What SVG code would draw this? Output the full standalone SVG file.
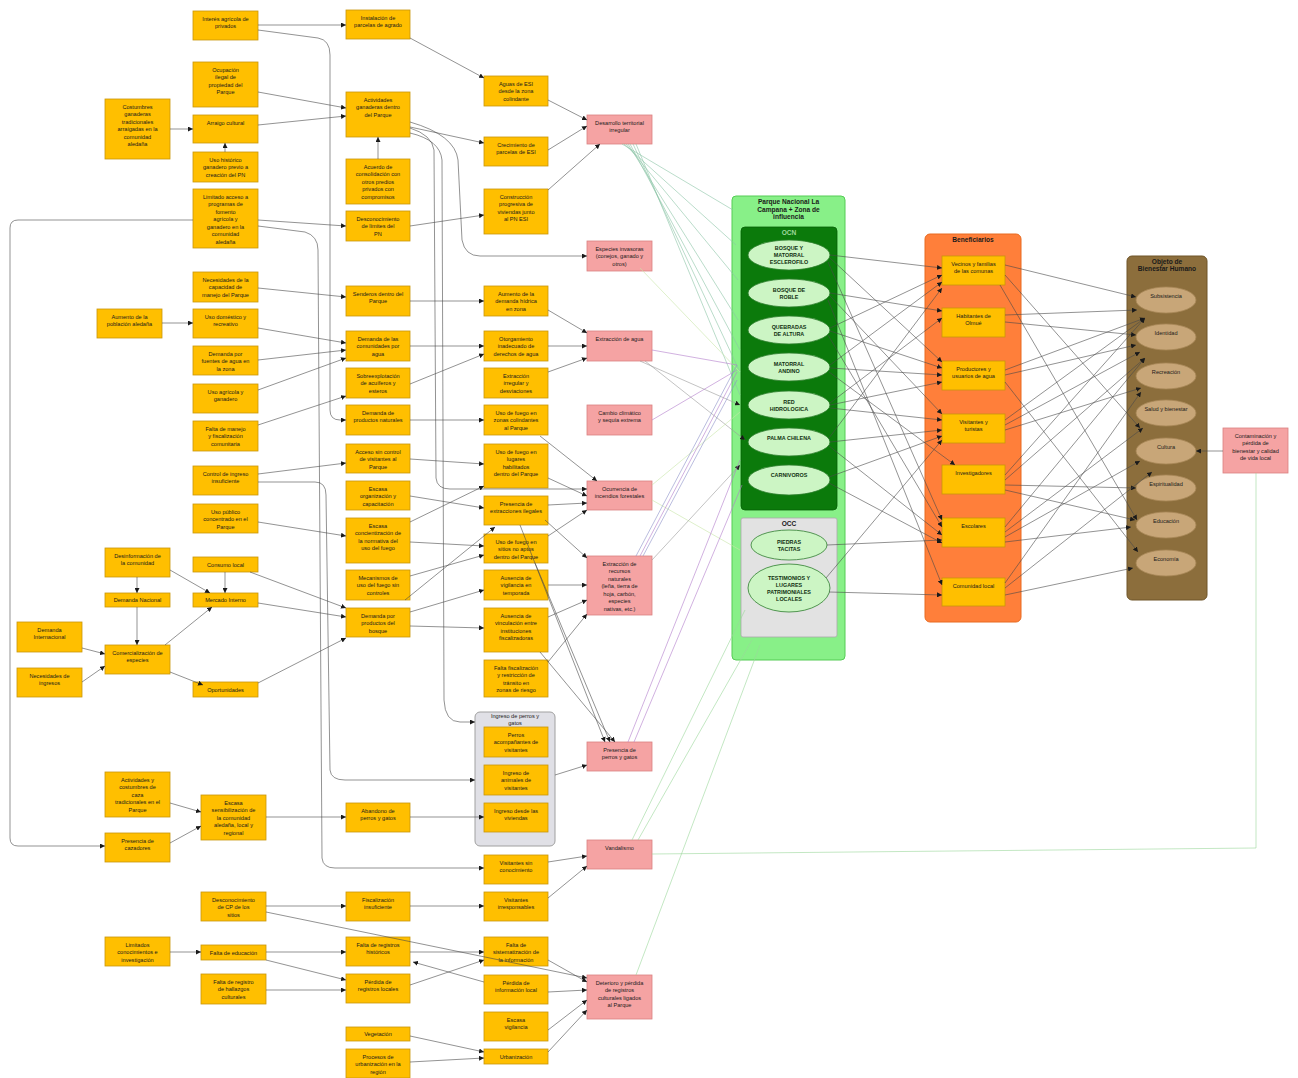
<svg xmlns="http://www.w3.org/2000/svg" width="1298" height="1078" viewBox="0 0 1298 1078">
<defs>
<marker id="a" viewBox="0 0 10 10" refX="10" refY="5" markerUnits="userSpaceOnUse" markerWidth="5" markerHeight="5" orient="auto"><path d="M0,0L10,5L0,10z" fill="#1a1a1a"/></marker>
<style>
.n rect{fill:#FFBF00;stroke:#C8960A;stroke-width:0.8}
.r rect{fill:#F5A3A3;stroke:#D98080;stroke-width:0.8}
.t{font-family:"Liberation Sans",Arial,sans-serif;font-size:5.6px;fill:#1a1a1a;text-anchor:middle}
.b{font-family:"Liberation Sans",Arial,sans-serif;font-size:5.4px;font-weight:bold;fill:#103010;text-anchor:middle}
.h{font-family:"Liberation Sans",Arial,sans-serif;font-size:6.6px;font-weight:bold;fill:#1a1a1a;text-anchor:middle}
.ge ellipse{fill:#CCF5C4;stroke:#2F7F2F;stroke-width:0.8}
.be ellipse{fill:#C8A678;stroke:#A88858;stroke-width:0.8}
#connectors path{fill:none;stroke-width:0.6}
.c{stroke:#4a4a4a;marker-end:url(#a)}
.gr{stroke:#8CC4A6}
.lg{stroke:#C8E6A8}
.pu{stroke:#B27CCB}
.bl{stroke:#8C90C8}
.gl{stroke:#9AD69A}
</style>
</defs>
<rect width="1298" height="1078" fill="#ffffff"/>

<!-- containers -->
<g id="parque">
<rect x="732" y="196" width="113" height="464" rx="4" fill="#88F088" stroke="#55CC55" stroke-width="1"/>
<text class="h"><tspan x="788.5" y="204">Parque Nacional La</tspan><tspan x="788.5" dy="7.5">Campana + Zona de</tspan><tspan x="788.5" dy="7.5">influencia</tspan></text>
<rect x="741" y="227" width="96" height="283" rx="4" fill="#0B7A0B" stroke="#066006" stroke-width="0.8"/>
<text class="h" x="789" y="235" style="fill:#9ED89E">OCN</text>
<rect x="741" y="518" width="96" height="119" rx="2" fill="#E2E2E2" stroke="#AAAAAA" stroke-width="0.8"/>
<text class="h" x="789" y="526">OCC</text>
</g>
<g id="beneficiarios">
<rect x="925" y="234" width="96" height="388" rx="5" fill="#FF7F3A" stroke="#E86A20" stroke-width="1"/>
<text class="h" x="973" y="242">Beneficiarios</text>
</g>
<g id="bienestar">
<rect x="1127" y="256" width="80" height="344" rx="5" fill="#8C6E3C" stroke="#6E5428" stroke-width="1"/>
<text class="h"><tspan x="1167" y="264">Objeto de</tspan><tspan x="1167" dy="7">Bienestar Humano</tspan></text>
</g>
<g id="grupo-perros">
<rect x="475" y="712" width="80" height="134" rx="5" fill="#E0E0E6" stroke="#A0A0A0" stroke-width="1"/>
<text class="t"><tspan x="515" y="718">Ingreso de perros y</tspan><tspan x="515" dy="6.5">gatos</tspan></text>
</g>

<!-- column A -->
<g id="A1" class="n"><rect x="105" y="99" width="65" height="60"/><text class="t"><tspan x="137.5" y="108.5">Costumbres</tspan><tspan x="137.5" dy="7.5">ganaderas</tspan><tspan x="137.5" dy="7.5">tradicionales</tspan><tspan x="137.5" dy="7.5">arraigadas en la</tspan><tspan x="137.5" dy="7.5">comunidad</tspan><tspan x="137.5" dy="7.5">aledaña</tspan></text></g>
<g id="A2" class="n"><rect x="97" y="309" width="65" height="29"/><text class="t"><tspan x="129.5" y="318.5">Aumento de la</tspan><tspan x="129.5" dy="7.5">población aledaña</tspan></text></g>
<g id="A3" class="n"><rect x="105" y="548" width="65" height="29"/><text class="t"><tspan x="137.5" y="557.5">Desinformación de</tspan><tspan x="137.5" dy="7.5">la comunidad</tspan></text></g>
<g id="A4" class="n"><rect x="105" y="593" width="65" height="14"/><text class="t" x="137.5" y="602">Demanda Nacional</text></g>
<g id="A5" class="n"><rect x="17" y="622" width="65" height="30"/><text class="t"><tspan x="49.5" y="631.5">Demanda</tspan><tspan x="49.5" dy="7.5">Internacional</tspan></text></g>
<g id="A6" class="n"><rect x="105" y="645" width="65" height="29"/><text class="t"><tspan x="137.5" y="654.5">Comercialización de</tspan><tspan x="137.5" dy="7.5">especies</tspan></text></g>
<g id="A7" class="n"><rect x="17" y="668" width="65" height="29"/><text class="t"><tspan x="49.5" y="677.5">Necesidades de</tspan><tspan x="49.5" dy="7.5">ingresos</tspan></text></g>
<g id="A8" class="n"><rect x="105" y="772" width="65" height="45"/><text class="t"><tspan x="137.5" y="781.5">Actividades y</tspan><tspan x="137.5" dy="7.5">costumbres de</tspan><tspan x="137.5" dy="7.5">caza</tspan><tspan x="137.5" dy="7.5">tradicionales en el</tspan><tspan x="137.5" dy="7.5">Parque</tspan></text></g>
<g id="A9" class="n"><rect x="105" y="833" width="65" height="29"/><text class="t"><tspan x="137.5" y="842.5">Presencia de</tspan><tspan x="137.5" dy="7.5">cazadores</tspan></text></g>
<g id="A10" class="n"><rect x="105" y="937" width="65" height="29"/><text class="t"><tspan x="137.5" y="946.5">Limitados</tspan><tspan x="137.5" dy="7.5">conocimientos e</tspan><tspan x="137.5" dy="7.5">investigación</tspan></text></g>

<!-- column B -->
<g id="B1" class="n"><rect x="193" y="11" width="65" height="29"/><text class="t"><tspan x="225.5" y="20.5">Interés agrícola de</tspan><tspan x="225.5" dy="7.5">privados</tspan></text></g>
<g id="B2" class="n"><rect x="193" y="62" width="65" height="45"/><text class="t"><tspan x="225.5" y="71.5">Ocupación</tspan><tspan x="225.5" dy="7.5">ilegal de</tspan><tspan x="225.5" dy="7.5">propiedad del</tspan><tspan x="225.5" dy="7.5">Parque</tspan></text></g>
<g id="B3" class="n"><rect x="193" y="115" width="65" height="28"/><text class="t" x="225.5" y="124.5">Arraigo cultural</text></g>
<g id="B4" class="n"><rect x="193" y="152" width="65" height="30"/><text class="t"><tspan x="225.5" y="161.5">Uso histórico</tspan><tspan x="225.5" dy="7.5">ganadero previo a</tspan><tspan x="225.5" dy="7.5">creación del PN</tspan></text></g>
<g id="B5" class="n"><rect x="193" y="189" width="65" height="59"/><text class="t"><tspan x="225.5" y="198.5">Limitado acceso a</tspan><tspan x="225.5" dy="7.5">programas de</tspan><tspan x="225.5" dy="7.5">fomento</tspan><tspan x="225.5" dy="7.5">agrícola y</tspan><tspan x="225.5" dy="7.5">ganadero en la</tspan><tspan x="225.5" dy="7.5">comunidad</tspan><tspan x="225.5" dy="7.5">aledaña</tspan></text></g>
<g id="B6" class="n"><rect x="193" y="272" width="65" height="30"/><text class="t"><tspan x="225.5" y="281.5">Necesidades de la</tspan><tspan x="225.5" dy="7.5">capacidad de</tspan><tspan x="225.5" dy="7.5">manejo del Parque</tspan></text></g>
<g id="B7" class="n"><rect x="193" y="309" width="65" height="29"/><text class="t"><tspan x="225.5" y="318.5">Uso doméstico y</tspan><tspan x="225.5" dy="7.5">recreativo</tspan></text></g>
<g id="B8" class="n"><rect x="193" y="346" width="65" height="29"/><text class="t"><tspan x="225.5" y="355.5">Demanda por</tspan><tspan x="225.5" dy="7.5">fuentes de agua en</tspan><tspan x="225.5" dy="7.5">la zona</tspan></text></g>
<g id="B9" class="n"><rect x="193" y="384" width="65" height="29"/><text class="t"><tspan x="225.5" y="393.5">Uso agrícola y</tspan><tspan x="225.5" dy="7.5">ganadero</tspan></text></g>
<g id="B10" class="n"><rect x="193" y="421" width="65" height="30"/><text class="t"><tspan x="225.5" y="430.5">Falta de manejo</tspan><tspan x="225.5" dy="7.5">y fiscalización</tspan><tspan x="225.5" dy="7.5">comunitaria</tspan></text></g>
<g id="B11" class="n"><rect x="193" y="466" width="65" height="29"/><text class="t"><tspan x="225.5" y="475.5">Control de ingreso</tspan><tspan x="225.5" dy="7.5">insuficiente</tspan></text></g>
<g id="B12" class="n"><rect x="193" y="504" width="65" height="29"/><text class="t"><tspan x="225.5" y="513.5">Uso público</tspan><tspan x="225.5" dy="7.5">concentrado en el</tspan><tspan x="225.5" dy="7.5">Parque</tspan></text></g>
<g id="B13" class="n"><rect x="193" y="557" width="65" height="15"/><text class="t" x="225.5" y="566.5">Consumo local</text></g>
<g id="B14" class="n"><rect x="193" y="593" width="65" height="14"/><text class="t" x="225.5" y="602">Mercado Interno</text></g>
<g id="B15" class="n"><rect x="193" y="682" width="65" height="15"/><text class="t" x="225.5" y="691.5">Oportunidades</text></g>
<g id="B16" class="n"><rect x="201" y="795" width="65" height="45"/><text class="t"><tspan x="233.5" y="804.5">Escasa</tspan><tspan x="233.5" dy="7.5">sensibilización de</tspan><tspan x="233.5" dy="7.5">la comunidad</tspan><tspan x="233.5" dy="7.5">aledaña, local y</tspan><tspan x="233.5" dy="7.5">regional</tspan></text></g>
<g id="B17" class="n"><rect x="201" y="892" width="65" height="29"/><text class="t"><tspan x="233.5" y="901.5">Desconocimiento</tspan><tspan x="233.5" dy="7.5">de CP de los</tspan><tspan x="233.5" dy="7.5">sitios</tspan></text></g>
<g id="B18" class="n"><rect x="201" y="945" width="65" height="15"/><text class="t" x="233.5" y="954.5">Falta de educación</text></g>
<g id="B19" class="n"><rect x="201" y="974" width="65" height="30"/><text class="t"><tspan x="233.5" y="983.5">Falta de registro</tspan><tspan x="233.5" dy="7.5">de hallazgos</tspan><tspan x="233.5" dy="7.5">culturales</tspan></text></g>

<!-- column C -->
<g id="C1" class="n"><rect x="346" y="10" width="64" height="29"/><text class="t"><tspan x="378" y="19.5">Instalación de</tspan><tspan x="378" dy="7.5">parcelas de agrado</tspan></text></g>
<g id="C2" class="n"><rect x="346" y="92" width="64" height="45"/><text class="t"><tspan x="378" y="101.5">Actividades</tspan><tspan x="378" dy="7.5">ganaderas dentro</tspan><tspan x="378" dy="7.5">del Parque</tspan></text></g>
<g id="C3" class="n"><rect x="346" y="159" width="64" height="45"/><text class="t"><tspan x="378" y="168.5">Acuerdo de</tspan><tspan x="378" dy="7.5">consolidación con</tspan><tspan x="378" dy="7.5">otros predios</tspan><tspan x="378" dy="7.5">privados con</tspan><tspan x="378" dy="7.5">compromisos</tspan></text></g>
<g id="C4" class="n"><rect x="346" y="211" width="64" height="30"/><text class="t"><tspan x="378" y="220.5">Desconocimiento</tspan><tspan x="378" dy="7.5">de límites del</tspan><tspan x="378" dy="7.5">PN</tspan></text></g>
<g id="C5" class="n"><rect x="346" y="286" width="64" height="30"/><text class="t"><tspan x="378" y="295.5">Senderos dentro del</tspan><tspan x="378" dy="7.5">Parque</tspan></text></g>
<g id="C6" class="n"><rect x="346" y="331" width="64" height="30"/><text class="t"><tspan x="378" y="340.5">Demanda de las</tspan><tspan x="378" dy="7.5">comunidades por</tspan><tspan x="378" dy="7.5">agua</tspan></text></g>
<g id="C7" class="n"><rect x="346" y="368" width="64" height="30"/><text class="t"><tspan x="378" y="377.5">Sobreexplotación</tspan><tspan x="378" dy="7.5">de acuíferos y</tspan><tspan x="378" dy="7.5">esteros</tspan></text></g>
<g id="C8" class="n"><rect x="346" y="405" width="64" height="30"/><text class="t"><tspan x="378" y="414.5">Demanda de</tspan><tspan x="378" dy="7.5">productos naturales</tspan></text></g>
<g id="C9" class="n"><rect x="346" y="444" width="64" height="29"/><text class="t"><tspan x="378" y="453.5">Acceso sin control</tspan><tspan x="378" dy="7.5">de visitantes al</tspan><tspan x="378" dy="7.5">Parque</tspan></text></g>
<g id="C10" class="n"><rect x="346" y="481" width="64" height="29"/><text class="t"><tspan x="378" y="490.5">Escasa</tspan><tspan x="378" dy="7.5">organización y</tspan><tspan x="378" dy="7.5">capacitación</tspan></text></g>
<g id="C11" class="n"><rect x="346" y="518" width="64" height="45"/><text class="t"><tspan x="378" y="527.5">Escasa</tspan><tspan x="378" dy="7.5">concientización de</tspan><tspan x="378" dy="7.5">la normativa del</tspan><tspan x="378" dy="7.5">uso del fuego</tspan></text></g>
<g id="C12" class="n"><rect x="346" y="570" width="64" height="30"/><text class="t"><tspan x="378" y="579.5">Mecanismos de</tspan><tspan x="378" dy="7.5">uso del fuego sin</tspan><tspan x="378" dy="7.5">controles</tspan></text></g>
<g id="C13" class="n"><rect x="346" y="608" width="64" height="29"/><text class="t"><tspan x="378" y="617.5">Demanda por</tspan><tspan x="378" dy="7.5">productos del</tspan><tspan x="378" dy="7.5">bosque</tspan></text></g>
<g id="C14" class="n"><rect x="346" y="803" width="64" height="29"/><text class="t"><tspan x="378" y="812.5">Abandono de</tspan><tspan x="378" dy="7.5">perros y gatos</tspan></text></g>
<g id="C15" class="n"><rect x="346" y="892" width="64" height="29"/><text class="t"><tspan x="378" y="901.5">Fiscalización</tspan><tspan x="378" dy="7.5">insuficiente</tspan></text></g>
<g id="C16" class="n"><rect x="346" y="937" width="64" height="29"/><text class="t"><tspan x="378" y="946.5">Falta de registros</tspan><tspan x="378" dy="7.5">históricos</tspan></text></g>
<g id="C17" class="n"><rect x="346" y="974" width="64" height="29"/><text class="t"><tspan x="378" y="983.5">Pérdida de</tspan><tspan x="378" dy="7.5">registros locales</tspan></text></g>
<g id="C18" class="n"><rect x="346" y="1027" width="64" height="14"/><text class="t" x="378" y="1036">Vegetación</text></g>
<g id="C19" class="n"><rect x="346" y="1049" width="64" height="29"/><text class="t"><tspan x="378" y="1058.5">Procesos de</tspan><tspan x="378" dy="7.5">urbanización en la</tspan><tspan x="378" dy="7.5">región</tspan></text></g>

<!-- column D -->
<g id="D1" class="n"><rect x="484" y="76" width="64" height="30"/><text class="t"><tspan x="516" y="85.5">Aguas de ESI</tspan><tspan x="516" dy="7.5">desde la zona</tspan><tspan x="516" dy="7.5">colindante</tspan></text></g>
<g id="D2" class="n"><rect x="484" y="137" width="64" height="29"/><text class="t"><tspan x="516" y="146.5">Crecimiento de</tspan><tspan x="516" dy="7.5">parcelas de ESI</tspan></text></g>
<g id="D3" class="n"><rect x="484" y="189" width="64" height="45"/><text class="t"><tspan x="516" y="198.5">Construcción</tspan><tspan x="516" dy="7.5">progresiva de</tspan><tspan x="516" dy="7.5">viviendas junto</tspan><tspan x="516" dy="7.5">al PN ESI</tspan></text></g>
<g id="D4" class="n"><rect x="484" y="286" width="64" height="30"/><text class="t"><tspan x="516" y="295.5">Aumento de la</tspan><tspan x="516" dy="7.5">demanda hídrica</tspan><tspan x="516" dy="7.5">en zona</tspan></text></g>
<g id="D5" class="n"><rect x="484" y="331" width="64" height="30"/><text class="t"><tspan x="516" y="340.5">Otorgamiento</tspan><tspan x="516" dy="7.5">inadecuado de</tspan><tspan x="516" dy="7.5">derechos de agua</tspan></text></g>
<g id="D6" class="n"><rect x="484" y="368" width="64" height="30"/><text class="t"><tspan x="516" y="377.5">Extracción</tspan><tspan x="516" dy="7.5">irregular y</tspan><tspan x="516" dy="7.5">desviaciones</tspan></text></g>
<g id="D7" class="n"><rect x="484" y="405" width="64" height="30"/><text class="t"><tspan x="516" y="414.5">Uso de fuego en</tspan><tspan x="516" dy="7.5">zonas colindantes</tspan><tspan x="516" dy="7.5">al Parque</tspan></text></g>
<g id="D8" class="n"><rect x="484" y="444" width="64" height="44"/><text class="t"><tspan x="516" y="453.5">Uso de fuego en</tspan><tspan x="516" dy="7.5">lugares</tspan><tspan x="516" dy="7.5">habilitados</tspan><tspan x="516" dy="7.5">dentro del Parque</tspan></text></g>
<g id="D9" class="n"><rect x="484" y="496" width="64" height="29"/><text class="t"><tspan x="516" y="505.5">Presencia de</tspan><tspan x="516" dy="7.5">extracciones ilegales</tspan></text></g>
<g id="D10" class="n"><rect x="484" y="534" width="64" height="29"/><text class="t"><tspan x="516" y="543.5">Uso de fuego en</tspan><tspan x="516" dy="7.5">sitios no aptos</tspan><tspan x="516" dy="7.5">dentro del Parque</tspan></text></g>
<g id="D11" class="n"><rect x="484" y="570" width="64" height="30"/><text class="t"><tspan x="516" y="579.5">Ausencia de</tspan><tspan x="516" dy="7.5">vigilancia en</tspan><tspan x="516" dy="7.5">temporada</tspan></text></g>
<g id="D12" class="n"><rect x="484" y="608" width="64" height="44"/><text class="t"><tspan x="516" y="617.5">Ausencia de</tspan><tspan x="516" dy="7.5">vinculación entre</tspan><tspan x="516" dy="7.5">instituciones</tspan><tspan x="516" dy="7.5">fiscalizadoras</tspan></text></g>
<g id="D13" class="n"><rect x="484" y="660" width="64" height="37"/><text class="t"><tspan x="516" y="669.5">Falta fiscalización</tspan><tspan x="516" dy="7.5">y restricción de</tspan><tspan x="516" dy="7.5">tránsito en</tspan><tspan x="516" dy="7.5">zonas de riesgo</tspan></text></g>
<g id="D14" class="n"><rect x="484" y="727" width="64" height="30"/><text class="t"><tspan x="516" y="736.5">Perros</tspan><tspan x="516" dy="7.5">acompañantes de</tspan><tspan x="516" dy="7.5">visitantes</tspan></text></g>
<g id="D15" class="n"><rect x="484" y="765" width="64" height="30"/><text class="t"><tspan x="516" y="774.5">Ingreso de</tspan><tspan x="516" dy="7.5">animales de</tspan><tspan x="516" dy="7.5">visitantes</tspan></text></g>
<g id="D16" class="n"><rect x="484" y="803" width="64" height="29"/><text class="t"><tspan x="516" y="812.5">Ingreso desde las</tspan><tspan x="516" dy="7.5">viviendas</tspan></text></g>
<g id="D17" class="n"><rect x="484" y="855" width="64" height="29"/><text class="t"><tspan x="516" y="864.5">Visitantes sin</tspan><tspan x="516" dy="7.5">conocimiento</tspan></text></g>
<g id="D18" class="n"><rect x="484" y="892" width="64" height="29"/><text class="t"><tspan x="516" y="901.5">Visitantes</tspan><tspan x="516" dy="7.5">irresponsables</tspan></text></g>
<g id="D19" class="n"><rect x="484" y="937" width="64" height="29"/><text class="t"><tspan x="516" y="946.5">Falta de</tspan><tspan x="516" dy="7.5">sistematización de</tspan><tspan x="516" dy="7.5">la información</tspan></text></g>
<g id="D20" class="n"><rect x="484" y="975" width="64" height="29"/><text class="t"><tspan x="516" y="984.5">Pérdida de</tspan><tspan x="516" dy="7.5">información local</tspan></text></g>
<g id="D21" class="n"><rect x="484" y="1012" width="64" height="29"/><text class="t"><tspan x="516" y="1021.5">Escasa</tspan><tspan x="516" dy="7.5">vigilancia</tspan></text></g>
<g id="D22" class="n"><rect x="484" y="1049" width="64" height="15"/><text class="t" x="516" y="1058.5">Urbanización</text></g>

<!-- threats -->
<g id="E1" class="r"><rect x="587" y="115" width="65" height="29"/><text class="t"><tspan x="619.5" y="124.5">Desarrollo territorial</tspan><tspan x="619.5" dy="7.5">irregular</tspan></text></g>
<g id="E2" class="r"><rect x="587" y="241" width="65" height="30"/><text class="t"><tspan x="619.5" y="250.5">Especies invasoras</tspan><tspan x="619.5" dy="7.5">(conejos, ganado y</tspan><tspan x="619.5" dy="7.5">otros)</tspan></text></g>
<g id="E3" class="r"><rect x="587" y="331" width="65" height="30"/><text class="t" x="619.5" y="340.5">Extracción de agua</text></g>
<g id="E4" class="r"><rect x="587" y="405" width="65" height="30"/><text class="t"><tspan x="619.5" y="414.5">Cambio climático</tspan><tspan x="619.5" dy="7.5">y sequía extrema</tspan></text></g>
<g id="E5" class="r"><rect x="587" y="481" width="65" height="29"/><text class="t"><tspan x="619.5" y="490.5">Ocurrencia de</tspan><tspan x="619.5" dy="7.5">incendios forestales</tspan></text></g>
<g id="E6" class="r"><rect x="587" y="556" width="65" height="59"/><text class="t"><tspan x="619.5" y="565.5">Extracción de</tspan><tspan x="619.5" dy="7.5">recursos</tspan><tspan x="619.5" dy="7.5">naturales</tspan><tspan x="619.5" dy="7.5">(leña, tierra de</tspan><tspan x="619.5" dy="7.5">hoja, carbón,</tspan><tspan x="619.5" dy="7.5">especies</tspan><tspan x="619.5" dy="7.5">nativas, etc.)</tspan></text></g>
<g id="E7" class="r"><rect x="587" y="742" width="65" height="29"/><text class="t"><tspan x="619.5" y="751.5">Presencia de</tspan><tspan x="619.5" dy="7.5">perros y gatos</tspan></text></g>
<g id="E8" class="r"><rect x="587" y="840" width="65" height="29"/><text class="t" x="619.5" y="849.5">Vandalismo</text></g>
<g id="E9" class="r"><rect x="587" y="975" width="65" height="44"/><text class="t"><tspan x="619.5" y="984.5">Deterioro y pérdida</tspan><tspan x="619.5" dy="7.5">de registros</tspan><tspan x="619.5" dy="7.5">culturales ligados</tspan><tspan x="619.5" dy="7.5">al Parque</tspan></text></g>
<g id="R1" class="r"><rect x="1223" y="428" width="65" height="45"/><text class="t"><tspan x="1255.5" y="437.5">Contaminación y</tspan><tspan x="1255.5" dy="7.5">pérdida de</tspan><tspan x="1255.5" dy="7.5">bienestar y calidad</tspan><tspan x="1255.5" dy="7.5">de vida local</tspan></text></g>

<!-- green targets -->
<g id="T1" class="ge"><ellipse cx="789" cy="255" rx="41" ry="15"/><text class="b"><tspan x="789" y="250">BOSQUE Y</tspan><tspan x="789" dy="7">MATORRAL</tspan><tspan x="789" dy="7">ESCLEROFILO</tspan></text></g>
<g id="T2" class="ge"><ellipse cx="789" cy="293" rx="41" ry="14"/><text class="b"><tspan x="789" y="291.5">BOSQUE DE</tspan><tspan x="789" dy="7">ROBLE</tspan></text></g>
<g id="T3" class="ge"><ellipse cx="789" cy="330" rx="41" ry="14"/><text class="b"><tspan x="789" y="328.5">QUEBRADAS</tspan><tspan x="789" dy="7">DE ALTURA</tspan></text></g>
<g id="T4" class="ge"><ellipse cx="789" cy="367" rx="41" ry="14"/><text class="b"><tspan x="789" y="365.5">MATORRAL</tspan><tspan x="789" dy="7">ANDINO</tspan></text></g>
<g id="T5" class="ge"><ellipse cx="789" cy="405" rx="41" ry="14"/><text class="b"><tspan x="789" y="403.5">RED</tspan><tspan x="789" dy="7">HIDROLOGICA</tspan></text></g>
<g id="T6" class="ge"><ellipse cx="789" cy="442" rx="41" ry="14"/><text class="b" x="789" y="440">PALMA CHILENA</text></g>
<g id="T7" class="ge"><ellipse cx="789" cy="480" rx="41" ry="15"/><text class="b" x="789" y="477">CARNIVOROS</text></g>
<g id="T8" class="ge"><ellipse cx="789" cy="545" rx="38" ry="15"/><text class="b"><tspan x="789" y="543.5">PIEDRAS</tspan><tspan x="789" dy="7">TACITAS</tspan></text></g>
<g id="T9" class="ge"><ellipse cx="789" cy="588" rx="41" ry="24"/><text class="b"><tspan x="789" y="579.5">TESTIMONIOS Y</tspan><tspan x="789" dy="7">LUGARES</tspan><tspan x="789" dy="7">PATRIMONIALES</tspan><tspan x="789" dy="7">LOCALES</tspan></text></g>

<!-- beneficiaries -->
<g id="O1" class="n"><rect x="942" y="256" width="63" height="29"/><text class="t"><tspan x="973.5" y="265.5">Vecinos y familias</tspan><tspan x="973.5" dy="7.5">de las comunas</tspan></text></g>
<g id="O2" class="n"><rect x="942" y="308" width="63" height="29"/><text class="t"><tspan x="973.5" y="317.5">Habitantes de</tspan><tspan x="973.5" dy="7.5">Olmué</tspan></text></g>
<g id="O3" class="n"><rect x="942" y="361" width="63" height="29"/><text class="t"><tspan x="973.5" y="370.5">Productores y</tspan><tspan x="973.5" dy="7.5">usuarios de agua</tspan></text></g>
<g id="O4" class="n"><rect x="942" y="414" width="63" height="29"/><text class="t"><tspan x="973.5" y="423.5">Visitantes y</tspan><tspan x="973.5" dy="7.5">turistas</tspan></text></g>
<g id="O5" class="n"><rect x="942" y="465" width="63" height="29"/><text class="t" x="973.5" y="474.5">Investigadores</text></g>
<g id="O6" class="n"><rect x="942" y="518" width="63" height="29"/><text class="t" x="973.5" y="527.5">Escolares</text></g>
<g id="O7" class="n"><rect x="942" y="578" width="63" height="28"/><text class="t" x="973.5" y="587.5">Comunidad local</text></g>

<!-- human wellbeing -->
<g id="W1" class="be"><ellipse cx="1166" cy="300" rx="30" ry="13"/><text class="t" x="1166" y="298">Subsistencia</text></g>
<g id="W2" class="be"><ellipse cx="1166" cy="337" rx="30" ry="13"/><text class="t" x="1166" y="335">Identidad</text></g>
<g id="W3" class="be"><ellipse cx="1166" cy="376" rx="30" ry="13"/><text class="t" x="1166" y="374">Recreación</text></g>
<g id="W4" class="be"><ellipse cx="1166" cy="413" rx="30" ry="13"/><text class="t" x="1166" y="411">Salud y bienestar</text></g>
<g id="W5" class="be"><ellipse cx="1166" cy="451" rx="30" ry="13"/><text class="t" x="1166" y="449">Cultura</text></g>
<g id="W6" class="be"><ellipse cx="1166" cy="488" rx="30" ry="13"/><text class="t" x="1166" y="486">Espiritualidad</text></g>
<g id="W7" class="be"><ellipse cx="1166" cy="525" rx="30" ry="13"/><text class="t" x="1166" y="523">Educación</text></g>
<g id="W8" class="be"><ellipse cx="1166" cy="563" rx="30" ry="13"/><text class="t" x="1166" y="561">Economía</text></g>

<g id="connectors">
<!-- colored threat-target links -->
<path class="gr" d="M622,144L733,210"/>
<path class="gr" d="M624,144L736,245"/>
<path class="gr" d="M626,144L738,280"/>
<path class="gr" d="M628,144L738,320"/>
<path class="gr" d="M630,144L740,350"/>
<path class="gr" d="M633,144L740,372"/>
<path class="gr" d="M636,144L740,395"/>
<path class="lg" d="M640,268L740,372"/>
<path class="pu" d="M652,350L737,365"/>
<path class="c" style="stroke:#9a9a9a" d="M640,361L740,405"/>
<path class="c" style="stroke:#9a9a9a" d="M645,361L745,440"/>
<path class="pu" d="M652,420L737,370"/>
<path class="lg" d="M652,485L740,412"/>
<path class="lg" d="M652,500L740,550"/>
<path class="bl" d="M636,556L737,365"/>
<path class="pu" d="M640,556L737,372"/>
<path class="bl" d="M643,556L737,380"/>
<path class="c" style="stroke:#9a9a9a" d="M652,560L740,465"/>
<path class="pu" d="M628,742L740,460"/>
<path class="pu" d="M634,742L742,485"/>
<path class="gl" d="M632,840L745,610"/>
<path class="gl" d="M638,840L752,640"/>
<path class="gl" d="M636,975L760,645"/>
<path class="gl" d="M652,854L1256,848L1256,473"/>

<!-- upper left -->
<path class="c" d="M170,129L193,129"/>
<path class="c" d="M225,152L225,143"/>
<path class="c" d="M258,25L346,25"/>
<path class="c" d="M258,30L318,38Q330,40 330,55L330,410Q330,420 340,420L346,420"/>
<path class="c" d="M258,92L346,108"/>
<path class="c" d="M258,125L346,116"/>
<path class="c" d="M378,159L378,137"/>
<path class="c" d="M410,38L484,78"/>
<path class="c" d="M410,127L484,143"/>
<path class="c" d="M410,122Q455,135 458,160L462,240Q465,256 480,256L587,256"/>
<path class="c" d="M410,128Q432,135 434,150L436,478Q437,489 450,489L587,489"/>
<path class="c" d="M410,133Q440,140 442,160L444,700Q445,722 460,722L475,722"/>
<path class="c" d="M548,100L587,120"/>
<path class="c" d="M548,150L587,126"/>
<path class="c" d="M548,190L600,144"/>
<path class="c" d="M258,220L346,226"/>
<path class="c" d="M410,226L484,215"/>
<path class="c" d="M193,220L18,220Q10,220 10,228L10,838Q10,846 18,846L105,846"/>
<path class="c" d="M258,226L305,232Q318,236 318,250L322,858Q323,868 335,868L484,868"/>
<path class="c" d="M258,482L315,482Q326,482 326,495L330,770Q331,780 345,780L475,780"/>

<!-- middle -->
<path class="c" d="M258,288L346,297"/>
<path class="c" d="M162,323L193,323"/>
<path class="c" d="M258,328L346,343"/>
<path class="c" d="M258,360L346,350"/>
<path class="c" d="M258,390L346,358"/>
<path class="c" d="M258,425L346,396"/>
<path class="c" d="M410,301L484,301"/>
<path class="c" d="M410,346L484,346"/>
<path class="c" d="M410,384L484,354"/>
<path class="c" d="M410,420L484,420"/>
<path class="c" d="M258,474L346,463"/>
<path class="c" d="M410,459L484,464"/>
<path class="c" d="M258,522L346,536"/>
<path class="c" d="M410,496L484,508"/>
<path class="c" d="M410,522L484,486"/>
<path class="c" d="M410,542L484,546"/>
<path class="c" d="M410,576L484,555"/>
<path class="c" d="M405,600L495,527"/>
<path class="c" d="M410,612L484,590"/>
<path class="c" d="M410,626L484,628"/>
<path class="c" d="M250,572L346,608"/>
<path class="c" d="M258,603L346,617"/>
<path class="c" d="M258,683L346,638"/>
<path class="c" d="M137,577L137,593"/>
<path class="c" d="M170,570L210,593"/>
<path class="c" d="M225,572L225,593"/>
<path class="c" d="M137,607L137,645"/>
<path class="c" d="M82,648L105,654"/>
<path class="c" d="M82,682L105,666"/>
<path class="c" d="M165,645L212,607"/>
<path class="c" d="M170,672L203,685"/>

<!-- D to threats -->
<path class="c" d="M548,310L587,333"/>
<path class="c" d="M548,346L587,346"/>
<path class="c" d="M548,372L587,358"/>
<path class="c" d="M540,436L597,481"/>
<path class="c" d="M548,478L587,496"/>
<path class="c" d="M548,505L587,503"/>
<path class="c" d="M548,536L587,510"/>
<path class="c" d="M545,520L587,558"/>
<path class="c" d="M548,585L587,585"/>
<path class="c" d="M548,617L587,600"/>
<path class="c" d="M548,662L587,614"/>
<path class="c" d="M520,525L605,742"/>
<path class="c" d="M535,563L610,742"/>
<path class="c" d="M540,652L615,742"/>
<path class="c" d="M555,775L587,765"/>
<path class="c" d="M548,862L587,856"/>
<path class="c" d="M548,898L587,866"/>
<path class="c" d="M548,960L587,982"/>
<path class="c" d="M548,992L587,990"/>
<path class="c" d="M548,1030L587,1000"/>
<path class="c" d="M548,1052L587,1010"/>
<path class="c" d="M266,912L587,978"/>

<!-- bottom left -->
<path class="c" d="M266,817L346,817"/>
<path class="c" d="M170,803L201,812"/>
<path class="c" d="M170,843L201,826"/>
<path class="c" d="M410,817L484,817"/>
<path class="c" d="M266,906L346,906"/>
<path class="c" d="M410,906L484,906"/>
<path class="c" d="M170,952L201,952"/>
<path class="c" d="M266,952L346,952"/>
<path class="c" d="M266,960L346,980"/>
<path class="c" d="M266,990L346,990"/>
<path class="c" d="M410,952L484,952"/>
<path class="c" d="M410,985L484,960"/>
<path class="c" d="M484,982L413,962"/>
<path class="c" d="M410,1036L484,1052"/>
<path class="c" d="M410,1062L484,1058"/>

<!-- targets to beneficiaries -->
<path class="c" d="M830,255L942,268"/>
<path class="c" d="M830,258L942,362"/>
<path class="c" d="M828,262L942,520"/>
<path class="c" d="M830,293L942,311"/>
<path class="c" d="M830,296L942,414"/>
<path class="c" d="M828,300L942,585"/>
<path class="c" d="M830,328L942,275"/>
<path class="c" d="M830,331L942,368"/>
<path class="c" d="M828,335L942,527"/>
<path class="c" d="M830,365L942,282"/>
<path class="c" d="M830,368L942,375"/>
<path class="c" d="M829,372L955,465"/>
<path class="c" d="M830,403L942,318"/>
<path class="c" d="M830,405L942,382"/>
<path class="c" d="M830,408L942,420"/>
<path class="c" d="M830,442L942,430"/>
<path class="c" d="M829,446L942,535"/>
<path class="c" d="M829,438L942,288"/>
<path class="c" d="M829,483L942,543"/>
<path class="c" d="M829,477L942,436"/>
<path class="c" d="M827,545L942,540"/>
<path class="c" d="M829,592L942,595"/>
<path class="c" d="M826,578L942,440"/>

<!-- beneficiaries to wellbeing -->
<path class="c" d="M1005,265L1136,297"/>
<path class="c" d="M1000,285L1137,520"/>
<path class="c" d="M1005,275L1140,428"/>
<path class="c" d="M1005,322L1136,335"/>
<path class="c" d="M1005,315L1137,310"/>
<path class="c" d="M1005,375L1136,345"/>
<path class="c" d="M1005,370L1145,318"/>
<path class="c" d="M1005,382L1138,552"/>
<path class="c" d="M1005,425L1140,352"/>
<path class="c" d="M1005,420L1145,318"/>
<path class="c" d="M1005,430L1141,388"/>
<path class="c" d="M1005,475L1145,318"/>
<path class="c" d="M1005,480L1145,358"/>
<path class="c" d="M1005,485L1136,488"/>
<path class="c" d="M1005,490L1135,520"/>
<path class="c" d="M1005,527L1145,358"/>
<path class="c" d="M1005,532L1143,428"/>
<path class="c" d="M1005,537L1140,461"/>
<path class="c" d="M1005,542L1131,527"/>
<path class="c" d="M1005,595L1133,568"/>
<path class="c" d="M1005,588L1152,472"/>
<path class="c" d="M1005,583L1141,392"/>
<path class="c" d="M1223,451L1196,451"/>
</g>
</svg>
